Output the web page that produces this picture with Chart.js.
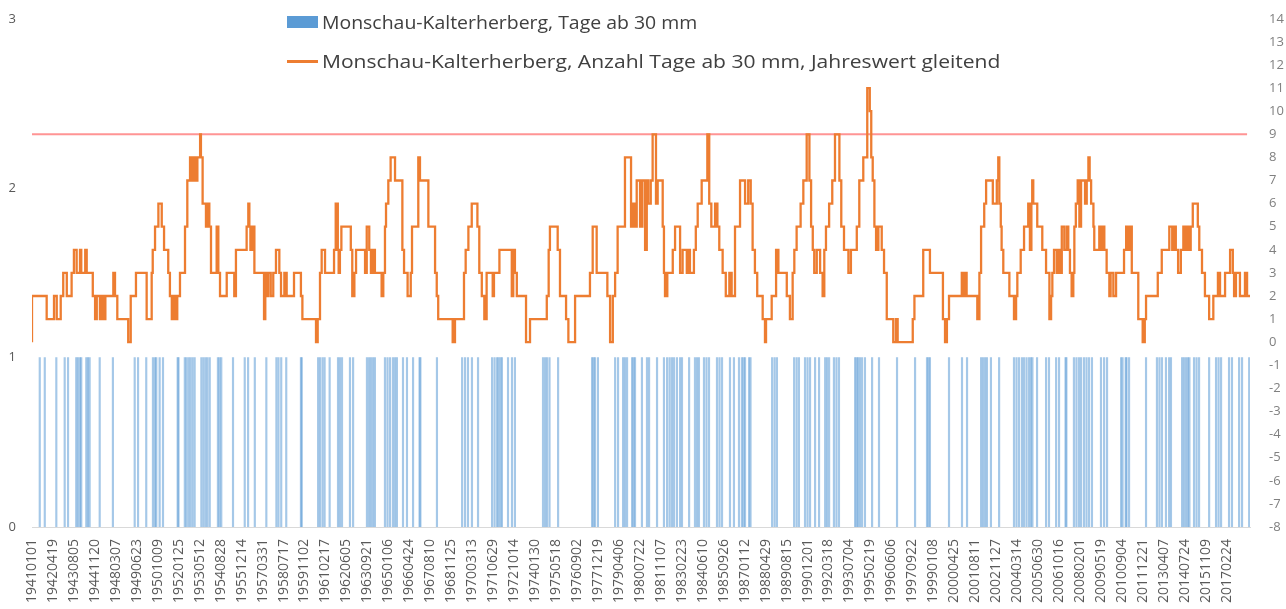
<!DOCTYPE html>
<html>
<head>
<meta charset="utf-8">
<script src="https://cdn.jsdelivr.net/npm/chart.js@4.4.1/dist/chart.umd.min.js"></script>
<style>
  body { margin: 0; background: #fff; }
  #wrap { position: relative; width: 1286px; height: 609px; }
  #legend { position: absolute; left: 0; top: 0; font-family: "Open Sans", sans-serif; font-size: 18px; color: #404040; }
  #legend .item { position: absolute; left: 287px; display: flex; align-items: center; white-space: nowrap; }
  #legend .box { width: 31px; height: 12px; background: #5b9bd5; margin-right: 4px; }
  #legend .ln { width: 31px; height: 3px; background: #ed7d31; margin-right: 4px; }
  #legend .txt { display: inline-block; transform-origin: left center; }
</style>
</head>
<body>
<div id="wrap">
  <canvas id="chart" width="1286" height="609"></canvas>
  <div id="legend">
    <div class="item" style="top:10px"><span class="box"></span><span class="txt" style="transform:scaleX(1.08)">Monschau-Kalterherberg, Tage ab 30 mm</span></div>
    <div class="item" style="top:49px"><span class="ln"></span><span class="txt" style="transform:scaleX(1.17)">Monschau-Kalterherberg, Anzahl Tage ab 30 mm, Jahreswert gleitend</span></div>
  </div>
</div>
<script>
/* Monschau-Kalterherberg: Tage ab 30 mm + gleitender Jahreswert */
// x-Einheit = ein Beschriftungsschritt der Kategorienachse
const TICK_LABELS = ['19410101', '19420419', '19430805', '19441120', '19480307', '19490623', '19501009', '19520125',
  '19530512', '19540828', '19551214', '19570331', '19580717', '19591102', '19610217', '19620605', '19630921',
  '19650106', '19660424', '19670810', '19681125', '19700313', '19710629', '19721014', '19740130', '19750518',
  '19760902', '19771219', '19790406', '19800722', '19811107', '19830223', '19840610', '19850926', '19870112',
  '19880429', '19890815', '19901201', '19920318', '19930704', '19950219', '19960606', '19970922', '19990108',
  '20000425', '20010811', '20021127', '20040314', '20050630', '20061016', '20080201', '20090519', '20100904',
  '20111221', '20130407', '20140724', '20151109', '20170224'];

// Tage ab 30 mm (jeweils Wert 1)
const BAR_POS = [0.37, 0.61, 1.16, 1.56, 1.72, 2.11, 2.19, 2.29, 2.35, 2.59, 2.67, 2.75, 3.23, 3.86, 4.90, 5.06,
  5.45, 5.77, 5.87, 5.93, 6.09, 6.25, 6.95, 6.99, 7.29, 7.37, 7.47, 7.56, 7.66, 7.76, 8.08, 8.18, 8.28, 8.37, 8.48,
  8.87, 8.95, 9.03, 9.59, 10.15, 10.31, 10.63, 11.18, 11.66, 11.76, 11.89, 12.13, 12.83, 12.87, 13.65, 13.74,
  13.86, 13.96, 14.20, 14.60, 14.69, 14.79, 15.17, 15.32, 15.98, 16.08, 16.17, 16.27, 16.36, 16.84, 16.96, 17.08,
  17.22, 17.32, 17.41, 17.70, 17.89, 18.18, 18.49, 18.53, 19.32, 20.52, 20.66, 20.80, 20.99, 21.28, 21.95, 22.07,
  22.19, 22.26, 22.35, 22.42, 22.71, 22.90, 23.04, 24.38, 24.48, 24.57, 24.69, 25.10, 26.72, 26.79, 26.86, 27.00,
  27.82, 27.96, 28.20, 28.29, 28.39, 28.63, 28.70, 28.77, 29.10, 29.34, 29.44, 29.82, 30.15, 30.30, 30.42, 30.53,
  30.63, 30.77, 30.92, 31.01, 31.35, 31.63, 31.73, 31.82, 32.06, 32.18, 32.30, 32.68, 32.80, 32.92, 33.30, 33.49,
  33.73, 33.87, 33.95, 34.02, 34.21, 34.28, 35.31, 35.43, 35.54, 36.36, 36.48, 36.59, 36.88, 37.00, 37.12, 37.36,
  37.55, 37.84, 37.93, 38.03, 38.26, 38.38, 38.50, 39.27, 39.34, 39.41, 39.50, 39.60, 39.74, 40.08, 40.41, 41.27,
  42.13, 42.70, 42.77, 42.84, 43.75, 44.37, 44.61, 45.28, 45.37, 45.47, 45.56, 45.75, 46.14, 46.85, 46.97, 47.09,
  47.23, 47.33, 47.45, 47.57, 47.66, 47.73, 47.95, 48.38, 48.52, 48.86, 49.00, 49.31, 49.35, 49.71, 49.83, 49.95,
  50.05, 50.19, 50.31, 50.43, 50.57, 51.00, 51.15, 51.29, 51.96, 52.03, 52.18, 52.22, 52.34, 53.15, 53.67, 53.79,
  53.91, 54.10, 54.25, 54.34, 54.87, 54.96, 55.06, 55.15, 55.22, 55.44, 55.56, 55.68, 56.16, 56.49, 56.61, 56.73,
  57.11, 57.25, 57.59, 57.73, 58.07];

// gleitender Jahreswert: Wert gilt ab Position bis zur nächsten
const STEP_POS = [0.00, 0.70, 1.05, 1.18, 1.37, 1.49, 1.66, 1.89, 2.00, 2.13, 2.29, 2.35, 2.54, 2.61, 2.90, 3.01,
  3.09, 3.24, 3.33, 3.44, 3.50, 3.88, 3.96, 4.07, 4.59, 4.71, 4.96, 5.47, 5.71, 5.76, 5.87, 6.03, 6.19, 6.30, 6.50,
  6.58, 6.67, 6.78, 6.87, 6.93, 7.06, 7.30, 7.41, 7.54, 7.62, 7.70, 7.78, 7.89, 8.02, 8.06, 8.14, 8.30, 8.38, 8.46,
  8.54, 8.81, 8.89, 8.97, 9.29, 9.65, 9.73, 10.24, 10.32, 10.37, 10.42, 10.51, 10.61, 11.07, 11.13, 11.18, 11.27,
  11.39, 11.51, 11.64, 11.80, 11.88, 12.04, 12.15, 12.50, 12.83, 12.90, 13.55, 13.63, 13.74, 13.82, 13.98, 14.41,
  14.49, 14.59, 14.63, 14.69, 14.76, 15.21, 15.28, 15.38, 15.46, 15.89, 15.97, 16.09, 16.17, 16.25, 16.36, 16.68,
  16.76, 16.84, 16.89, 17.00, 17.11, 17.32, 17.67, 17.75, 17.92, 18.07, 18.13, 18.43, 18.51, 18.91, 19.23, 19.31,
  19.38, 20.07, 20.18, 20.61, 20.69, 20.82, 20.98, 21.25, 21.34, 21.46, 21.58, 21.69, 21.98, 22.04, 22.30, 22.89,
  22.96, 23.04, 23.13, 23.57, 23.76, 24.56, 24.65, 24.71, 25.08, 25.19, 25.48, 25.59, 25.91, 26.62, 26.75, 26.94,
  27.45, 27.58, 27.71, 27.82, 27.94, 28.29, 28.58, 28.69, 28.77, 28.85, 29.01, 29.12, 29.25, 29.33, 29.40, 29.52,
  29.61, 29.77, 29.85, 30.09, 30.15, 30.20, 30.31, 30.57, 30.68, 30.92, 31.04, 31.24, 31.31, 31.39, 31.58, 31.67,
  31.76, 31.95, 32.22, 32.31, 32.41, 32.59, 32.70, 32.79, 32.95, 33.10, 33.27, 33.38, 33.54, 33.78, 34.02, 34.17,
  34.29, 34.38, 34.49, 34.60, 34.86, 34.97, 35.02, 35.29, 35.50, 35.61, 36.01, 36.16, 36.29, 36.37, 36.48, 36.67,
  36.80, 36.96, 37.09, 37.17, 37.25, 37.32, 37.44, 37.60, 37.72, 37.80, 37.88, 38.03, 38.18, 38.31, 38.52, 38.61,
  38.74, 38.95, 39.07, 39.35, 39.47, 39.66, 39.85, 39.97, 40.04, 40.11, 40.19, 40.27, 40.38, 40.54, 40.65, 40.78,
  41.09, 41.22, 41.30, 42.02, 42.10, 42.52, 42.84, 43.46, 43.56, 43.65, 43.75, 44.36, 44.43, 44.51, 44.59, 45.10,
  45.20, 45.28, 45.43, 45.52, 45.84, 46.03, 46.10, 46.15, 46.22, 46.26, 46.34, 46.63, 46.85, 46.95, 47.01, 47.17,
  47.33, 47.53, 47.61, 47.68, 47.72, 47.77, 47.96, 48.20, 48.38, 48.54, 48.62, 48.68, 48.76, 48.89, 48.97, 49.05,
  49.13, 49.25, 49.37, 49.44, 49.52, 49.60, 49.68, 49.73, 49.80, 49.89, 49.97, 50.05, 50.24, 50.32, 50.40, 50.46,
  50.53, 50.64, 50.68, 50.92, 51.00, 51.08, 51.16, 51.27, 51.40, 51.46, 51.59, 51.72, 52.10, 52.20, 52.28, 52.39,
  52.47, 52.78, 52.99, 53.09, 53.15, 53.71, 53.90, 54.26, 54.40, 54.48, 54.57, 54.68, 54.81, 54.93, 55.01, 55.09,
  55.17, 55.28, 55.38, 55.62, 55.69, 55.82, 55.96, 56.16, 56.36, 56.58, 56.68, 56.92, 57.16, 57.29, 57.35, 57.44,
  57.63, 57.87, 57.97, 58.06, 58.11];
const STEP_VAL = [0, 2, 1, 2, 1, 2, 3, 2, 3, 4, 3, 4, 3, 4, 3, 2,
  1, 2, 1, 2, 1, 2, 3, 2, 1, 0, 2, 3, 1, 3, 4, 5, 6, 5, 4,
  3, 2, 1, 2, 1, 2, 3, 5, 7, 8, 7, 8, 7, 8, 9, 8, 6, 5, 6,
  5, 3, 5, 3, 2, 3, 2, 4, 5, 6, 5, 4, 5, 3, 1, 3, 2,
  3, 2, 3, 4, 3, 2, 3, 2, 3, 2, 1, 0, 1, 3, 4, 3,
  4, 6, 4, 3, 4, 5, 4, 2, 3, 4, 3, 5, 4, 3, 4, 3,
  2, 3, 5, 6, 7, 8, 7, 4, 3, 2, 3, 5, 8, 7, 5, 3,
  2, 1, 0, 1, 3, 4, 5, 6, 5, 3, 2, 1, 3, 2, 3, 4,
  2, 4, 3, 2, 0, 1, 2, 4, 5, 4, 2, 1, 0, 2, 3, 5,
  3, 2, 0, 2, 3, 5, 8, 5, 6, 5, 7, 5, 7, 4, 7, 6,
  7, 9, 6, 7, 5, 3, 2, 3, 4, 5, 3, 4, 3, 4, 3, 4,
  5, 6, 7, 9, 6, 5, 6, 5, 4, 3, 2, 3, 2, 5, 7, 6,
  7, 6, 4, 3, 2, 1, 0, 1, 2, 4, 3, 2, 1, 3, 4, 5,
  6, 7, 9, 7, 5, 4, 3, 4, 3, 2, 4, 5, 6, 7, 9, 7,
  5, 4, 3, 4, 5, 7, 8, 11, 10, 8, 7, 5, 4, 5, 4, 3,
  1, 0, 1, 0, 1, 2, 4, 3, 1, 0, 1, 2, 3, 2, 3, 2,
  1, 3, 5, 6, 7, 6, 7, 8, 6, 5, 4, 3, 2, 1, 2, 3,
  4, 5, 6, 4, 6, 7, 6, 5, 4, 3, 1, 2, 3, 4, 3, 4,
  3, 5, 4, 5, 4, 3, 2, 3, 5, 6, 7, 5, 7, 6, 7, 8,
  7, 6, 5, 4, 5, 4, 5, 4, 3, 2, 3, 2, 3, 4, 5, 4,
  5, 3, 1, 0, 1, 2, 3, 4, 5, 4, 5, 4, 3, 4, 5, 4,
  5, 4, 5, 6, 5, 4, 3, 2, 1, 2, 3, 2, 3, 4, 3, 2,
  3, 2, 3, 2, 2];

const LIMIT = 9;          // Schwellenlinie rechte Achse
const LIMIT_END = 57.97;
const X_END = 58.11;

const tickFont = { family: 'Open Sans', size: 13 };

new Chart(document.getElementById('chart'), {
  type: 'bar',
  data: {
    datasets: [
      {
        type: 'bar', label: 'Monschau-Kalterherberg, Tage ab 30 mm',
        data: BAR_POS.map((x) => ({ x, y: 1 })),
        xAxisID: 'x', yAxisID: 'y',
        backgroundColor: 'rgba(91,155,213,0.55)', borderWidth: 0, barThickness: 1.5, order: 3,
      },
      {
        type: 'line', label: 'Monschau-Kalterherberg, Anzahl Tage ab 30 mm, Jahreswert gleitend',
        data: STEP_POS.map((x, i) => ({ x, y: STEP_VAL[i] })),
        xAxisID: 'x', yAxisID: 'y2',
        borderColor: '#ed7d31', borderWidth: 2.3, pointRadius: 0, stepped: 'after', fill: false, order: 1,
      },
      {
        type: 'line', label: 'Grenze',
        data: [{ x: 0, y: LIMIT }, { x: LIMIT_END, y: LIMIT }],
        xAxisID: 'x', yAxisID: 'y2',
        borderColor: 'rgba(255,90,90,0.65)', borderWidth: 2, pointRadius: 0, order: 2,
      },
    ],
  },
  options: {
    responsive: false, animation: false, devicePixelRatio: 1,
    layout: { padding: { top: 5 } },
    plugins: { legend: { display: false }, tooltip: { enabled: false } },
    scales: {
      x: {
        type: 'linear', min: 0, max: X_END, offset: false,
        grid: { display: false }, border: { display: true, color: '#d9d9d9' },
        afterBuildTicks: (s) => { s.ticks = TICK_LABELS.map((_, i) => ({ value: i })); },
        afterFit: (s) => { s.height = 82; },
        ticks: {
          autoSkip: false, minRotation: 90, maxRotation: 90, padding: 4, color: '#595959',
          font: { family: 'Open Sans', size: 14 }, callback: (v) => TICK_LABELS[v],
        },
      },
      y: {
        position: 'left', min: 0, max: 3,
        grid: { display: false }, border: { display: false },
        afterFit: (s) => { s.width = 32; },
        ticks: { stepSize: 1, padding: 8, color: '#595959', font: tickFont },
      },
      y2: {
        position: 'right', min: -8, max: 14,
        grid: { display: false }, border: { display: false },
        afterFit: (s) => { s.width = 36; },
        ticks: { stepSize: 1, padding: 11, color: '#808080', font: tickFont },
      },
    },
  },
});
</script>
</body>
</html>
